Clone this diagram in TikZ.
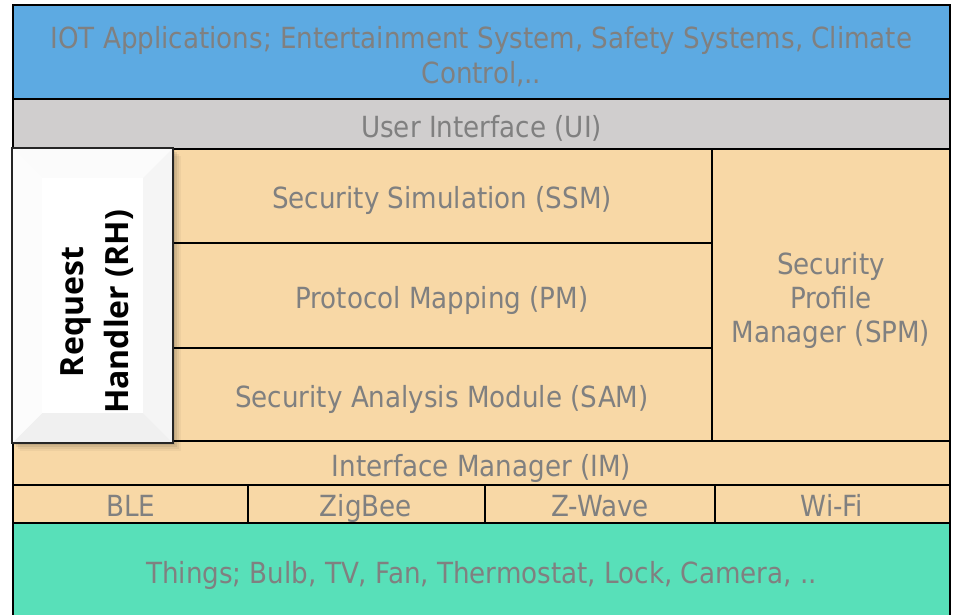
\documentclass[tikz,border=0pt]{standalone}
\usepackage{fontspec}
\setmainfont{DejaVu Sans Condensed}
\newfontfamily\rhfont{Open Sans}
\definecolor{appblue}{RGB}{93,170,226}
\definecolor{uigray}{RGB}{208,206,206}
\definecolor{tan}{RGB}{248,216,166}
\definecolor{thgreen}{RGB}{88,224,185}
\definecolor{txtgray}{RGB}{128,128,128}
\tikzset{
  layer/.style={draw=black, line width=2.8pt, inner sep=0pt, outer sep=0pt},
  lbl/.style={text=txtgray, font=\fontsize{29.1}{35}\selectfont, align=center, inner sep=0pt},
  one/.style={lbl, text height=21pt, text depth=6pt},
}
\begin{document}
\begin{tikzpicture}[x=1pt,y=-1pt]
\useasboundingbox (0,0) rectangle (953,615);
% layers
\draw[layer, fill=appblue] (13,5) rectangle (950,99);
\draw[layer, fill=uigray] (13,99) rectangle (950,149);
\draw[layer, fill=tan] (13,149) rectangle (712,243);
\draw[layer, fill=tan] (13,243) rectangle (712,348);
\draw[layer, fill=tan] (13,348) rectangle (712,441);
\draw[layer, fill=tan] (712,149) rectangle (950,441);
\draw[layer, fill=tan] (13,441) rectangle (950,485);
\draw[layer, fill=tan] (13,485) rectangle (248,523);
\draw[layer, fill=tan] (248,485) rectangle (485,523);
\draw[layer, fill=tan] (485,485) rectangle (715,523);
\draw[layer, fill=tan] (715,485) rectangle (950,523);
\draw[layer, fill=thgreen] (13,523) rectangle (950,630);
% texts
\node[lbl] (app) at (481.5,57) {IOT Applications; Entertainment System, Safety Systems, Climate\\Control,..};
\node[one] (ui) at (481.5,130) {User Interface (UI)};
\node[one] (ssm) at (442,201) {Security Simulation (SSM)};
\node[one] (pm) at (442,301) {Protocol Mapping (PM)};
\node[one] (sam) at (442,400) {Security Analysis Module (SAM)};
\node[lbl, font=\fontsize{29.1}{34}\selectfont] (spm) at (831,300) {Security\\Profile\\Manager (SPM)};
\node[one] (im) at (481.5,469) {Interface Manager (IM)};
\node[one] (ble) at (131,509) {BLE};
\node[one] (zig) at (366,509) {ZigBee};
\node[one] (zw) at (600,509) {Z-Wave};
\node[one] (wifi) at (832,509) {Wi-Fi};
\node[one] (things) at (481.5,576) {Things; Bulb, TV, Fan, Thermostat, Lock, Camera, ..};
% RH box shadow
\foreach \d/\o in {8/0.04,6/0.05,4/0.07,2/0.08}{
  \fill[black, opacity=\o] (12+\d,148+\d) rectangle (173+\d,443+\d);
}
% RH box with bevel
\fill[white] (12,148) rectangle (173,443);
\fill[gray!3] (12,148) -- (173,148) -- (143,178) -- (42,178) -- cycle;
\fill[gray!8] (173,148) -- (173,443) -- (143,413) -- (143,178) -- cycle;
\fill[gray!12] (12,443) -- (173,443) -- (143,413) -- (42,413) -- cycle;
\fill[gray!2] (12,148) -- (12,443) -- (42,413) -- (42,178) -- cycle;
\fill[white] (42,178) rectangle (143,413);
\draw[black!85, line width=2.4pt] (12,148) rectangle (173,443);
\node[font=\rhfont\bfseries\fontsize{32}{45}\selectfont, align=center, rotate=90, inner sep=0pt] (rh) at (97,312) {Request\\Handler (RH)};
\end{tikzpicture}
\end{document}
